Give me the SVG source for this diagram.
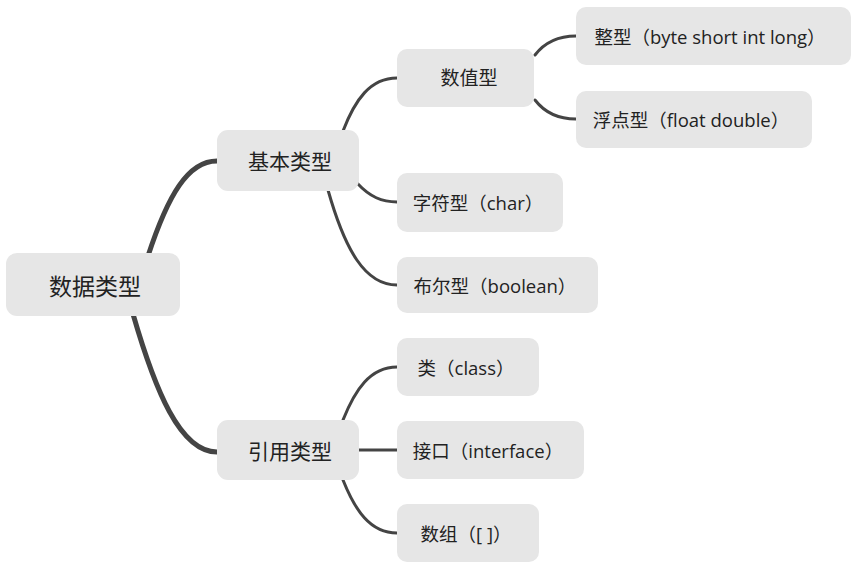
<svg xmlns="http://www.w3.org/2000/svg" width="858" height="568" viewBox="0 0 858 568">
<style>
.n{fill:#e6e6e6}
.t{font-family:"Open Sans","Noto Sans CJK SC",sans-serif;fill:#222;text-anchor:middle;dominant-baseline:central}
.t0{font-size:23px}
.t1{font-size:21px}
.t2{font-size:19px}
.t3{font-size:18.5px}
.c{fill:none;stroke:#444;stroke-linecap:round}
.c0{stroke-width:5}
.c1{stroke-width:3}
</style>
<rect width="858" height="568" fill="#fff"/>
<g id="connectors">
<path class="c c0" d="M148,256 C168,195 188,161 217,161"/>
<path class="c c0" d="M133,314 C155,390 180,452 217,452"/>
<path class="c c1" d="M343,131 C355,100 370,78 397,78"/>
<path class="c c1" d="M357,183 C370,197 382,202 397,202"/>
<path class="c c1" d="M328,190 C345,250 365,285 397,285"/>
<path class="c c1" d="M535,55 C545,42 558,36 576,36"/>
<path class="c c1" d="M535,100 C545,113 558,119 576,119"/>
<path class="c c1" d="M343,420 C355,390 370,367 397,367"/>
<path class="c c1" d="M359,450 L397,450"/>
<path class="c c1" d="M343,480 C355,510 370,533 397,533"/>
</g>
<g id="root"><rect class="n" x="6" y="253" width="174" height="63" rx="11"/><text class="t t0" x="95" y="286">数据类型</text></g>
<g id="basic"><rect class="n" x="217" y="130" width="142" height="61" rx="11"/><text class="t t1" x="290" y="161">基本类型</text></g>
<g id="ref"><rect class="n" x="217" y="420" width="142" height="60" rx="11"/><text class="t t1" x="290" y="451">引用类型</text></g>
<g id="numeric"><rect class="n" x="397" y="49" width="137" height="58" rx="10"/><text class="t t2" x="469" y="78">数值型</text></g>
<g id="integer"><rect class="n" x="576" y="7" width="275" height="58" rx="10"/><text class="t t3" x="710" y="36">整型（byte short int long）</text></g>
<g id="float"><rect class="n" x="576" y="91" width="236" height="57" rx="10"/><text class="t t3" x="691" y="119">浮点型（float double）</text></g>
<g id="char"><rect class="n" x="397" y="173" width="166" height="59" rx="10"/><text class="t t3" x="478" y="202">字符型（char）</text></g>
<g id="boolean"><rect class="n" x="397" y="257" width="201" height="56" rx="10"/><text class="t t3" x="495" y="285">布尔型（boolean）</text></g>
<g id="class"><rect class="n" x="397" y="338" width="142" height="58" rx="10"/><text class="t t3" x="466" y="367">类（class）</text></g>
<g id="interface"><rect class="n" x="397" y="421" width="187" height="58" rx="10"/><text class="t t3" x="488" y="450">接口（interface）</text></g>
<g id="array"><rect class="n" x="397" y="504" width="142" height="58" rx="10"/><text class="t t3" x="466" y="533">数组（[ ]）</text></g>
</svg>
